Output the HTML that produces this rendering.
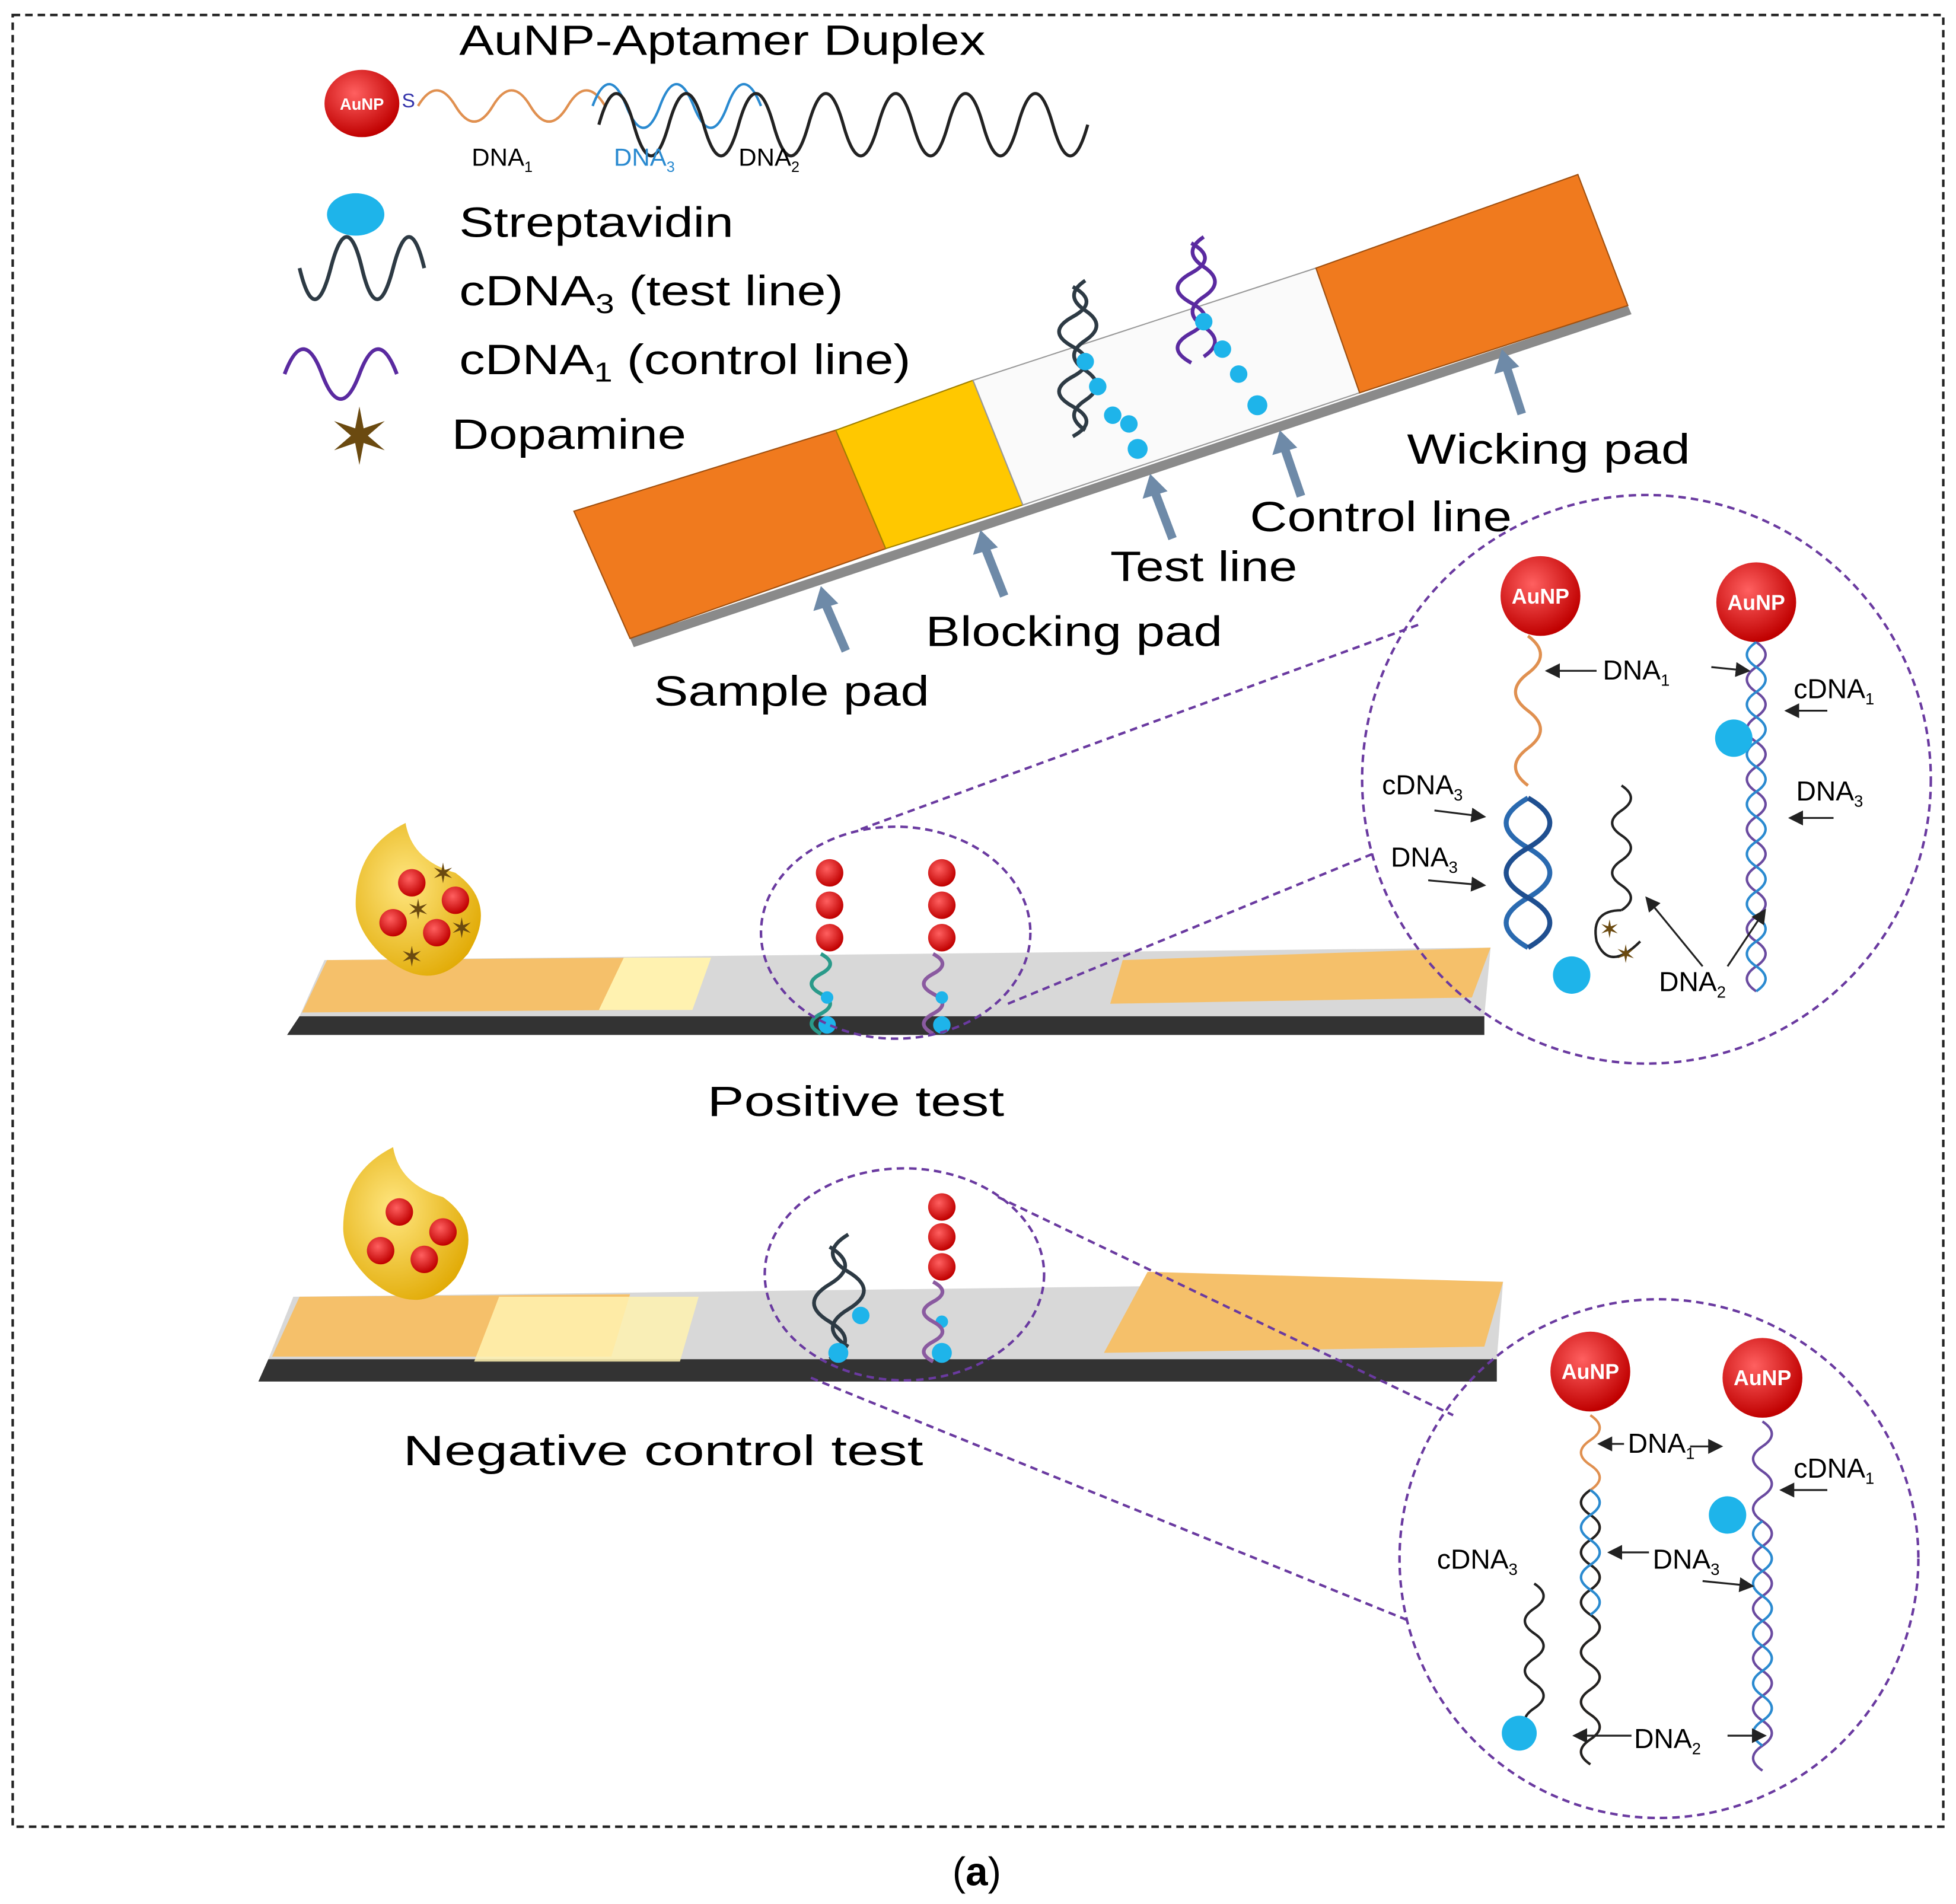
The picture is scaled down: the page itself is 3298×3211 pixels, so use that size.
<!DOCTYPE html>
<html><head><meta charset="utf-8"><style>html,body{margin:0;padding:0;background:#fff}svg{display:block}text{font-family:"Liberation Sans",sans-serif}</style></head><body>
<svg width="3298" height="3211" viewBox="0 0 1568 1527" xmlns="http://www.w3.org/2000/svg">
<defs>
<radialGradient id="au" cx="40%" cy="35%" r="65%"><stop offset="0" stop-color="#ff6060"/><stop offset="1" stop-color="#c00000"/></radialGradient>
<radialGradient id="drop" cx="40%" cy="40%" r="70%"><stop offset="0" stop-color="#ffe680"/><stop offset="1" stop-color="#e0a800"/></radialGradient>
<marker id="ah" markerWidth="8" markerHeight="8" refX="7" refY="4" orient="auto"><path d="M0,0 L8,4 L0,8z" fill="#222"/></marker>
</defs>
<rect x="10" y="12" width="1548" height="1453" fill="none" stroke="#222" stroke-width="2" stroke-dasharray="6,4"/>
<text x="783" y="1512" font-family="Liberation Serif" font-size="32" text-anchor="middle">(<tspan font-weight="bold">a</tspan>)</text>

<!-- legend -->
<text x="368" y="44" font-size="34" textLength="422" lengthAdjust="spacingAndGlyphs">AuNP-Aptamer Duplex</text>
<ellipse cx="290" cy="83" rx="30" ry="27" fill="url(#au)"/>
<text x="290" y="88" font-size="13" font-weight="bold" fill="#fff" text-anchor="middle">AuNP</text>
<text x="322" y="86" font-size="16" fill="#33a">S</text>
<path d="M335,85 q15,-25 30,0 t30,0 t30,0 t30,0 t30,0" fill="none" stroke="#e09050" stroke-width="2"/>
<path d="M475,85 q13,-35 27,0 t27,0 t27,0 t27,0 t27,0" fill="none" stroke="#2a8ad0" stroke-width="2"/>
<path d="M480,100 q14,-50 28,0 t28,0 t28,0 t28,0 t28,0 t28,0 t28,0 t28,0 t28,0 t28,0 t28,0 t28,0 t28,0 t28,0" fill="none" stroke="#222" stroke-width="2.5"/>
<text x="378" y="133" font-size="20">DNA<tspan font-size="12" dy="5">1</tspan></text>
<text x="492" y="133" font-size="20" fill="#2a8ad0">DNA<tspan font-size="12" dy="5">3</tspan></text>
<text x="592" y="133" font-size="20">DNA<tspan font-size="12" dy="5">2</tspan></text>
<ellipse cx="285" cy="172" rx="23" ry="17" fill="#1eb4ea"/>
<text x="368" y="190" font-size="34" textLength="220" lengthAdjust="spacingAndGlyphs">Streptavidin</text>
<path d="M240,215 q12,50 25,0 t25,0 t25,0 t25,0" fill="none" stroke="#2d3a44" stroke-width="3"/>
<text x="368" y="245" font-size="34" textLength="308" lengthAdjust="spacingAndGlyphs">cDNA<tspan font-size="22" dy="6">3</tspan><tspan dy="-6"> (test line)</tspan></text>
<path d="M228,300 q15,-40 30,0 t30,0 t30,0" fill="none" stroke="#5a2aa0" stroke-width="3"/>
<text x="368" y="300" font-size="34" textLength="362" lengthAdjust="spacingAndGlyphs">cDNA<tspan font-size="22" dy="6">1</tspan><tspan dy="-6"> (control line)</tspan></text>
<text x="288" y="372" font-size="62" fill="#6b4a10" text-anchor="middle">✶</text>
<text x="362" y="360" font-size="34" textLength="188" lengthAdjust="spacingAndGlyphs">Dopamine</text>

<!-- tilted strip -->
<polygon points="505,512 1305,245 1308,252 508,519" fill="#8a8a8a"/>
<polygon points="460,410 670,345 710,440 505,512" fill="#f07a1e" stroke="#a05010"/>
<polygon points="670,345 780,305 820,405 710,440" fill="#ffc800" stroke="#a08000"/>
<polygon points="780,305 1055,215 1090,315 820,405" fill="#fafafa" stroke="#999"/>
<polygon points="1055,215 1265,140 1305,245 1090,315" fill="#f07a1e" stroke="#a05010"/>
<g stroke="#2d3a44" stroke-width="3" fill="none"><path d="M870,225 q-18,12 0,24 t0,24 t0,24 t0,24 t0,24"/><path d="M860,230 q22,12 0,24 t0,24 t0,24 t0,24 t0,24"/></g>
<g fill="#1eb4ea"><circle cx="870" cy="290" r="7"/><circle cx="880" cy="310" r="7"/><circle cx="892" cy="333" r="7"/><circle cx="905" cy="340" r="7"/><circle cx="912" cy="360" r="8"/></g>
<g stroke="#5a2aa0" stroke-width="3" fill="none"><path d="M965,190 q-18,12 0,24 t0,24 t0,24 t0,24"/><path d="M955,195 q22,12 0,24 t0,24 t0,24 t0,24"/></g>
<g fill="#1eb4ea"><circle cx="965" cy="258" r="7"/><circle cx="980" cy="280" r="7"/><circle cx="993" cy="300" r="7"/><circle cx="1008" cy="325" r="8"/></g>
<g stroke="#6e8aa8" stroke-width="7" fill="#6e8aa8">
<line x1="678" y1="522" x2="662" y2="485"/><line x1="805" y1="478" x2="790" y2="440"/><line x1="940" y1="432" x2="926" y2="395"/><line x1="1043" y1="398" x2="1030" y2="360"/><line x1="1220" y1="332" x2="1208" y2="295"/></g>
<g fill="#6e8aa8"><polygon points="652,490 658,470 672,484"/><polygon points="780,445 786,425 800,439"/><polygon points="916,400 922,380 936,394"/><polygon points="1020,365 1026,345 1040,359"/><polygon points="1198,300 1204,280 1218,294"/></g>
<text x="524" y="566" font-size="34" textLength="221" lengthAdjust="spacingAndGlyphs">Sample pad</text>
<text x="742" y="518" font-size="34" textLength="238" lengthAdjust="spacingAndGlyphs">Blocking pad</text>
<text x="890" y="466" font-size="34" textLength="150" lengthAdjust="spacingAndGlyphs">Test line</text>
<text x="1002" y="426" font-size="34" textLength="210" lengthAdjust="spacingAndGlyphs">Control line</text>
<text x="1128" y="372" font-size="34" textLength="227" lengthAdjust="spacingAndGlyphs">Wicking pad</text>

<!-- positive strip -->
<polygon points="230,830 1190,830 1190,815 240,815" fill="#333"/>
<polygon points="240,815 260,770 1195,760 1190,815" fill="#d8d8d8"/>
<polygon points="242,812 262,770 520,768 505,810" fill="#f5c06a"/>
<polygon points="480,810 500,768 570,768 555,810" fill="#fff2b0"/>
<polygon points="890,805 900,770 1195,760 1180,800" fill="#f5c06a"/>
<path d="M285,725 q0,-45 40,-65 q5,30 40,40 q35,25 10,65 q-30,35 -70,0 q-20,-20 -20,-40z" fill="url(#drop)"/>
<g fill="url(#au)"><circle cx="330" cy="708" r="11"/><circle cx="365" cy="722" r="11"/><circle cx="315" cy="740" r="11"/><circle cx="350" cy="748" r="11"/></g>
<g fill="#6b4a10" font-size="22" text-anchor="middle"><text x="355" y="708">✶</text><text x="370" y="752">✶</text><text x="330" y="775">✶</text><text x="335" y="737">✶</text></g>
<g fill="url(#au)"><circle cx="665" cy="700" r="11"/><circle cx="665" cy="726" r="11"/><circle cx="665" cy="752" r="11"/><circle cx="755" cy="700" r="11"/><circle cx="755" cy="726" r="11"/><circle cx="755" cy="752" r="11"/></g>
<path d="M658,765 q15,8 0,16 t0,16 t0,16 t0,16" stroke="#2a9a8a" stroke-width="3" fill="none"/>
<path d="M748,765 q15,8 0,16 t0,16 t0,16 t0,16" stroke="#8a5aa0" stroke-width="3" fill="none"/>
<g fill="#1eb4ea"><circle cx="663" cy="822" r="7"/><circle cx="755" cy="822" r="7"/><circle cx="755" cy="800" r="5"/><circle cx="663" cy="800" r="5"/></g>
<ellipse cx="718" cy="748" rx="108" ry="85" fill="none" stroke="#6a3aa0" stroke-width="2" stroke-dasharray="6,4"/>
<line x1="690" y1="665" x2="1140" y2="500" stroke="#6a3aa0" stroke-width="2" stroke-dasharray="6,4"/>
<line x1="808" y1="805" x2="1100" y2="685" stroke="#6a3aa0" stroke-width="2" stroke-dasharray="6,4"/>
<text x="567" y="895" font-size="34" textLength="238" lengthAdjust="spacingAndGlyphs">Positive test</text>

<!-- zoom circle 1 -->
<circle cx="1320" cy="625" r="228" fill="none" stroke="#6a3aa0" stroke-width="2" stroke-dasharray="6,4"/>
<circle cx="1235" cy="478" r="32" fill="url(#au)"/><text x="1235" y="484" font-size="17" font-weight="bold" fill="#fff" text-anchor="middle">AuNP</text>
<circle cx="1408" cy="483" r="32" fill="url(#au)"/><text x="1408" y="489" font-size="17" font-weight="bold" fill="#fff" text-anchor="middle">AuNP</text>
<path d="M1225,510 q20,15 0,30 t0,30 t0,30 t0,30" stroke="#e09050" stroke-width="2.5" fill="none"/>
<path d="M1225,640 q-35,20 0,40 t0,40 t0,40" stroke="#2a6ab0" stroke-width="4" fill="none"/>
<path d="M1225,640 q35,20 0,40 t0,40 t0,40" stroke="#1f4f90" stroke-width="4" fill="none"/>
<circle cx="1260" cy="782" r="15" fill="#1eb4ea"/>
<path d="M1408,515 q15,10 0,20 t0,20 t0,20 t0,20 t0,20 t0,20 t0,20 t0,20 t0,20 t0,20 t0,20 t0,20 t0,20 t0,20" stroke="#6a4aa0" stroke-width="2" fill="none"/>
<path d="M1408,515 q-15,10 0,20 t0,20 t0,20 t0,20 t0,20 t0,20 t0,20 t0,20 t0,20 t0,20 t0,20 t0,20 t0,20 t0,20" stroke="#2a8ad0" stroke-width="2" fill="none"/>
<circle cx="1390" cy="592" r="15" fill="#1eb4ea"/>
<path d="M1300,630 q15,10 0,20 t0,20 t0,20 t0,20 t0,20" stroke="#222" stroke-width="2" fill="none"/>
<path d="M1300,730 q-25,0 -20,25 q10,25 35,0" stroke="#222" stroke-width="2" fill="none"/>
<g fill="#6b4a10" font-size="20"><text x="1282" y="752">✶</text><text x="1295" y="772">✶</text></g>
<text x="1285" y="545" font-size="22">DNA<tspan font-size="13" dy="5">1</tspan></text>
<text x="1438" y="560" font-size="22">cDNA<tspan font-size="13" dy="5">1</tspan></text>
<text x="1108" y="637" font-size="22">cDNA<tspan font-size="13" dy="5">3</tspan></text>
<text x="1115" y="695" font-size="22">DNA<tspan font-size="13" dy="5">3</tspan></text>
<text x="1440" y="642" font-size="22">DNA<tspan font-size="13" dy="5">3</tspan></text>
<text x="1330" y="795" font-size="22">DNA<tspan font-size="13" dy="5">2</tspan></text>
<g stroke="#222" stroke-width="1.5" marker-end="url(#ah)" fill="none">
<line x1="1280" y1="538" x2="1240" y2="538"/><line x1="1372" y1="535" x2="1402" y2="538"/><line x1="1465" y1="570" x2="1432" y2="570"/>
<line x1="1150" y1="650" x2="1190" y2="655"/><line x1="1145" y1="706" x2="1190" y2="710"/><line x1="1470" y1="656" x2="1435" y2="656"/>
<line x1="1365" y1="775" x2="1320" y2="720"/><line x1="1385" y1="775" x2="1415" y2="730"/></g>

<!-- negative strip -->
<polygon points="207,1108 1200,1108 1200,1090 215,1090" fill="#333"/>
<polygon points="215,1090 235,1040 1205,1028 1200,1090" fill="#d8d8d8"/>
<polygon points="218,1088 240,1040 505,1038 490,1088" fill="#f5c06a"/>
<polygon points="380,1092 400,1040 560,1040 545,1092" fill="#fff2b0" opacity=".85"/>
<polygon points="885,1085 920,1020 1205,1028 1190,1080" fill="#f5c06a"/>
<path d="M275,985 q0,-45 40,-65 q5,30 40,40 q35,25 10,65 q-30,35 -70,0 q-20,-20 -20,-40z" fill="url(#drop)"/>
<g fill="url(#au)"><circle cx="320" cy="972" r="11"/><circle cx="355" cy="988" r="11"/><circle cx="305" cy="1003" r="11"/><circle cx="340" cy="1010" r="11"/></g>
<path d="M680,990 q-25,15 0,30 t0,30 t0,30" stroke="#2d3a44" stroke-width="3" fill="none"/>
<path d="M665,1000 q25,15 0,30 t0,30 t0,30" stroke="#2d3a44" stroke-width="3" fill="none"/>
<g fill="#1eb4ea"><circle cx="690" cy="1055" r="7"/><circle cx="672" cy="1085" r="8"/><circle cx="755" cy="1085" r="8"/><circle cx="755" cy="1060" r="5"/></g>
<g fill="url(#au)"><circle cx="755" cy="968" r="11"/><circle cx="755" cy="992" r="11"/><circle cx="755" cy="1016" r="11"/></g>
<path d="M748,1028 q15,8 0,16 t0,16 t0,16 t0,16" stroke="#8a5aa0" stroke-width="3" fill="none"/>
<ellipse cx="725" cy="1022" rx="112" ry="85" fill="none" stroke="#6a3aa0" stroke-width="2" stroke-dasharray="6,4"/>
<line x1="800" y1="960" x2="1165" y2="1135" stroke="#6a3aa0" stroke-width="2" stroke-dasharray="6,4"/>
<line x1="650" y1="1105" x2="1130" y2="1300" stroke="#6a3aa0" stroke-width="2" stroke-dasharray="6,4"/>
<text x="323" y="1175" font-size="34" textLength="417" lengthAdjust="spacingAndGlyphs">Negative control test</text>

<!-- zoom circle 2 -->
<circle cx="1330" cy="1250" r="208" fill="none" stroke="#6a3aa0" stroke-width="2" stroke-dasharray="6,4"/>
<circle cx="1275" cy="1100" r="32" fill="url(#au)"/><text x="1275" y="1106" font-size="17" font-weight="bold" fill="#fff" text-anchor="middle">AuNP</text>
<circle cx="1413" cy="1105" r="32" fill="url(#au)"/><text x="1413" y="1111" font-size="17" font-weight="bold" fill="#fff" text-anchor="middle">AuNP</text>
<path d="M1275,1135 q15,10 0,20 t0,20 t0,20 t0,20 t0,20 t0,20 t0,20 t0,20 t0,20 t0,20 t0,20 t0,20 t0,20 t0,20" stroke="#e09050" stroke-width="2" fill="none"/>
<path d="M1275,1195 q-15,10 0,20 t0,20 t0,20 t0,20 t0,20 t0,20 t0,20 t0,20 t0,20 t0,20 t0,20" stroke="#222" stroke-width="2" fill="none"/>
<path d="M1275,1195 q15,10 0,20 t0,20 t0,20 t0,20 t0,20" stroke="#2a8ad0" stroke-width="2" fill="none"/>
<path d="M1413,1140 q15,10 0,20 t0,20 t0,20 t0,20 t0,20 t0,20 t0,20 t0,20 t0,20 t0,20 t0,20 t0,20 t0,20 t0,20" stroke="#6a4aa0" stroke-width="2" fill="none"/>
<path d="M1413,1220 q-15,10 0,20 t0,20 t0,20 t0,20 t0,20 t0,20 t0,20 t0,20 t0,20" stroke="#2a8ad0" stroke-width="2" fill="none"/>
<circle cx="1385" cy="1215" r="15" fill="#1eb4ea"/>
<path d="M1230,1270 q15,10 0,20 t0,20 t0,20 t0,20 t0,20 t0,20" stroke="#222" stroke-width="2" fill="none"/>
<circle cx="1218" cy="1390" r="14" fill="#1eb4ea"/>
<text x="1305" y="1165" font-size="22">DNA<tspan font-size="13" dy="5">1</tspan></text>
<text x="1438" y="1185" font-size="22">cDNA<tspan font-size="13" dy="5">1</tspan></text>
<text x="1152" y="1258" font-size="22">cDNA<tspan font-size="13" dy="5">3</tspan></text>
<text x="1325" y="1258" font-size="22">DNA<tspan font-size="13" dy="5">3</tspan></text>
<text x="1310" y="1402" font-size="22">DNA<tspan font-size="13" dy="5">2</tspan></text>
<g stroke="#222" stroke-width="1.5" marker-end="url(#ah)" fill="none">
<line x1="1302" y1="1158" x2="1282" y2="1158"/><line x1="1355" y1="1160" x2="1380" y2="1160"/><line x1="1465" y1="1195" x2="1428" y2="1195"/>
<line x1="1322" y1="1245" x2="1290" y2="1245"/><line x1="1365" y1="1268" x2="1405" y2="1272"/>
<line x1="1308" y1="1392" x2="1262" y2="1392"/><line x1="1385" y1="1392" x2="1415" y2="1392"/></g>
</svg>
</body></html>
